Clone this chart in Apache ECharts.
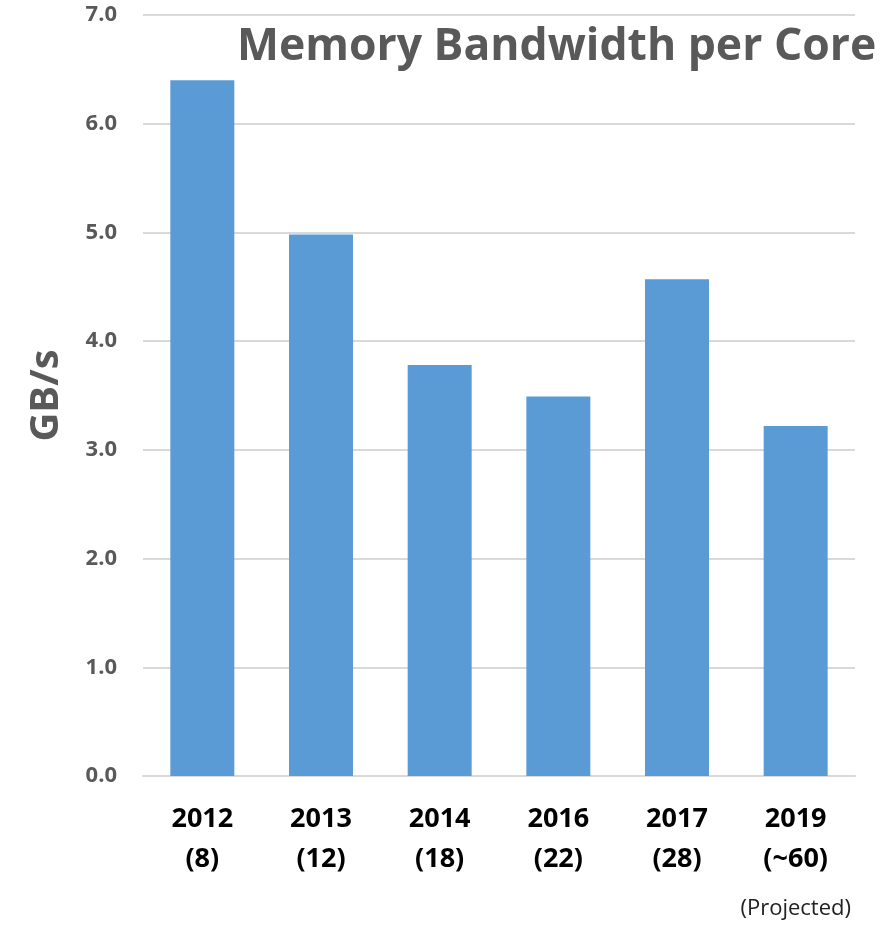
<!DOCTYPE html>
<html>
<head>
<meta charset="utf-8">
<script src="https://cdn.jsdelivr.net/npm/echarts@6/dist/echarts.min.js"></script>
<style>
  html, body { margin: 0; padding: 0; background: #fff; }
  #chart { width: 884px; height: 929px; }
</style>
</head>
<body>
<div id="chart"></div>
<script>
// Memory bandwidth per core by platform year (core count in parentheses)
const years = ['2012', '2013', '2014', '2016', '2017', '2019'];
const cores = ['8', '12', '18', '22', '28', '~60'];
const bandwidthGBs = [6.40, 4.98, 3.78, 3.49, 4.57, 3.22];
const yTicks = [0, 1, 2, 3, 4, 5, 6, 7];

const categories = years.map((y, i) => y + '\n(' + cores[i] + ')');

const chart = echarts.init(document.getElementById('chart'));
chart.setOption({
  animation: false,
  backgroundColor: '#ffffff',
  title: {
    text: 'Memory Bandwidth per Core',
    left: 232,
    top: 20,
    textStyle: {
      fontFamily: 'Open Sans',
      fontSize: 44.5,
      fontWeight: 'bold',
      color: '#595959'
    }
  },
  grid: { left: 143, right: 29, top: 15, bottom: 153 },
  xAxis: {
    type: 'category',
    data: categories,
    axisLine: { show: true, lineStyle: { color: '#d9d9d9', width: 2 } },
    axisTick: { show: false },
    axisLabel: {
      margin: 23,
      fontFamily: 'Open Sans',
      fontSize: 27,
      fontWeight: 'bold',
      color: '#000000',
      lineHeight: 40
    }
  },
  yAxis: {
    type: 'value',
    min: yTicks[0],
    max: yTicks[yTicks.length - 1],
    interval: 1,
    name: 'GB/s',
    nameLocation: 'middle',
    nameRotate: 90,
    nameGap: 76,
    nameTextStyle: {
      fontFamily: 'Open Sans',
      fontSize: 40,
      fontWeight: 'bold',
      color: '#595959'
    },
    axisLine: { show: false },
    axisTick: { show: false },
    splitLine: { lineStyle: { color: '#d9d9d9', width: 2 } },
    axisLabel: {
      margin: 26,
      fontFamily: 'Open Sans',
      fontSize: 22,
      fontWeight: 'bold',
      color: '#595959',
      formatter: v => v.toFixed(1)
    }
  },
  series: [{
    type: 'bar',
    data: bandwidthGBs,
    barWidth: 64,
    itemStyle: { color: '#5b9bd5' }
  }],
  graphic: [{
    type: 'text',
    right: 33,
    top: 898,
    style: {
      text: '(Projected)',
      fontFamily: 'Open Sans',
      fontSize: 22,
      fill: '#222222'
    }
  }]
});
</script>
</body>
</html>
